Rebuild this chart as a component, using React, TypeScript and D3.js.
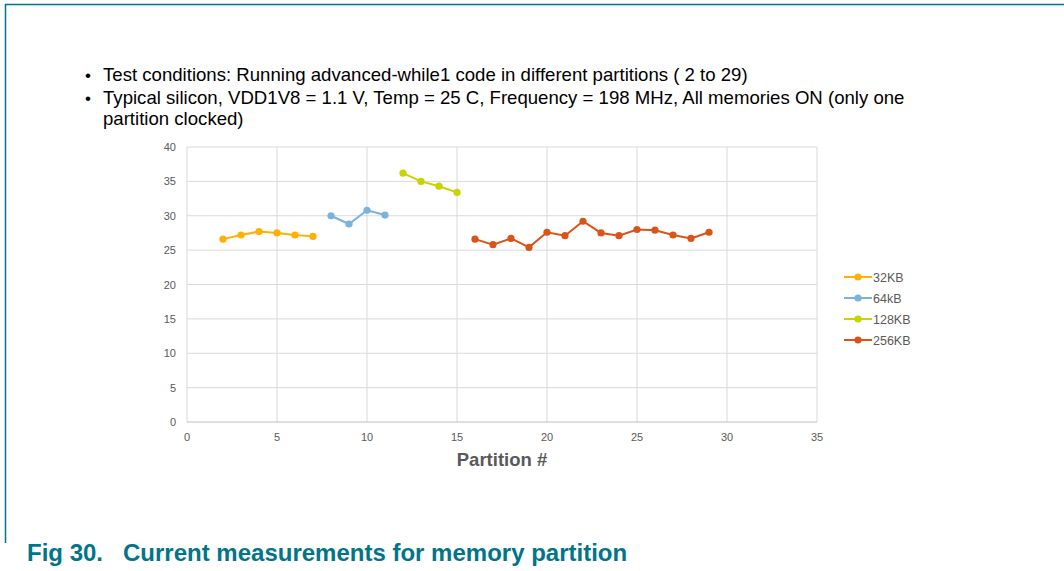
import React from 'react';
import * as d3 from 'd3';

const xTicks = [0, 5, 10, 15, 20, 25, 30, 35];
const yTicks = [0, 5, 10, 15, 20, 25, 30, 35, 40];

const seriesNames = ['32KB', '64kB', '128KB', '256KB'];
const seriesColors = ['#FFB000', '#7AB1DE', '#C9D300', '#DA5418'];

const partitions32 = [2, 3, 4, 5, 6, 7];
const current32 = [26.6, 27.2, 27.7, 27.5, 27.2, 27.0];
const partitions64 = [8, 9, 10, 11];
const current64 = [30.0, 28.8, 30.8, 30.1];
const partitions128 = [12, 13, 14, 15];
const current128 = [36.2, 35.0, 34.3, 33.4];
const partitions256 = [16, 17, 18, 19, 20, 21, 22, 23, 24, 25, 26, 27, 28, 29];
const current256 = [26.6, 25.8, 26.7, 25.4, 27.6, 27.1, 29.2, 27.5, 27.1, 28.0, 27.9, 27.2, 26.7, 27.6];

const bullets = [
  ['Test conditions: Running advanced-while1 code in different partitions ( 2 to 29)'],
  ['Typical silicon, VDD1V8 = 1.1 V, Temp = 25 C, Frequency = 198 MHz, All memories ON (only one', 'partition clocked)'],
];

const caption = 'Fig 30.\u00a0\u00a0\u00a0Current measurements for memory partition';

const App = () => {
  const plot = { left: 187, right: 817, top: 147, bottom: 422 };
  const x = d3.scaleLinear().domain([0, 35]).range([plot.left, plot.right]);
  const y = d3.scaleLinear().domain([0, 40]).range([plot.bottom, plot.top]);

  const series = [
    { xs: partitions32, ys: current32 },
    { xs: partitions64, ys: current64 },
    { xs: partitions128, ys: current128 },
    { xs: partitions256, ys: current256 },
  ];

  const line = d3.line<[number, number]>()
    .x(d => x(d[0]))
    .y(d => y(d[1]));

  const teal = '#00758A';
  const gray = '#595959';
  const font = '"Liberation Sans", Arial, sans-serif';

  return (
    <svg width={1064} height={571} style={{ position: 'absolute', left: 0, top: 0 }} fontFamily={font}>
      <rect width={1064} height={571} fill="#fff" />
      {/* page frame */}
      <line x1={5} y1={4.5} x2={1064} y2={4.5} stroke={teal} strokeWidth={1.5} />
      <line x1={5.5} y1={4} x2={5.5} y2={543} stroke={teal} strokeWidth={1.5} />

      {/* bullet text */}
      {bullets.map((b, i) => (
        <g key={i}>
          <text x={85} y={i === 0 ? 81 : 104} fontSize={17} fill="#000">•</text>
          {b.map((t, j) => (
            <text key={j} x={103} y={(i === 0 ? 81 : 104) + j * 21} fontSize={18.6} fill="#000">{t}</text>
          ))}
        </g>
      ))}

      {/* grid */}
      {xTicks.map(t => (
        <line key={'gx' + t} x1={x(t)} x2={x(t)} y1={plot.top} y2={plot.bottom} stroke="#D9D9D9" />
      ))}
      {yTicks.map(t => (
        <line key={'gy' + t} x1={plot.left} x2={plot.right} y1={y(t)} y2={y(t)} stroke={t === 0 ? '#BFBFBF' : '#D9D9D9'} />
      ))}

      {/* tick labels */}
      {yTicks.map(t => (
        <text key={'ly' + t} x={176} y={y(t) + 4} fontSize={11} fill={gray} textAnchor="end">{t}</text>
      ))}
      {xTicks.map(t => (
        <text key={'lx' + t} x={x(t)} y={441} fontSize={11} fill={gray} textAnchor="middle">{t}</text>
      ))}
      <text x={502} y={466} fontSize={18.5} fontWeight="bold" fill={gray} textAnchor="middle">Partition #</text>

      {/* series */}
      {series.map((s, i) => {
        const pts = s.xs.map((v, k) => [v, s.ys[k]] as [number, number]);
        return (
          <g key={'s' + i}>
            <path d={line(pts) || ''} fill="none" stroke={seriesColors[i]} strokeWidth={2} />
            {pts.map((p, k) => (
              <circle key={k} cx={x(p[0])} cy={y(p[1])} r={3.6} fill={seriesColors[i]} />
            ))}
          </g>
        );
      })}

      {/* legend */}
      {seriesNames.map((n, i) => {
        const ly = 277 + i * 21;
        return (
          <g key={'lg' + i}>
            <line x1={844} x2={872} y1={ly} y2={ly} stroke={seriesColors[i]} strokeWidth={2} />
            <circle cx={858} cy={ly} r={3.6} fill={seriesColors[i]} />
            <text x={873} y={ly + 4.5} fontSize={12.5} fill={gray}>{n}</text>
          </g>
        );
      })}

      {/* caption */}
      <text x={27} y={561} fontSize={24} fontWeight="bold" fill={teal}>{caption}</text>
    </svg>
  );
};

export default App;
